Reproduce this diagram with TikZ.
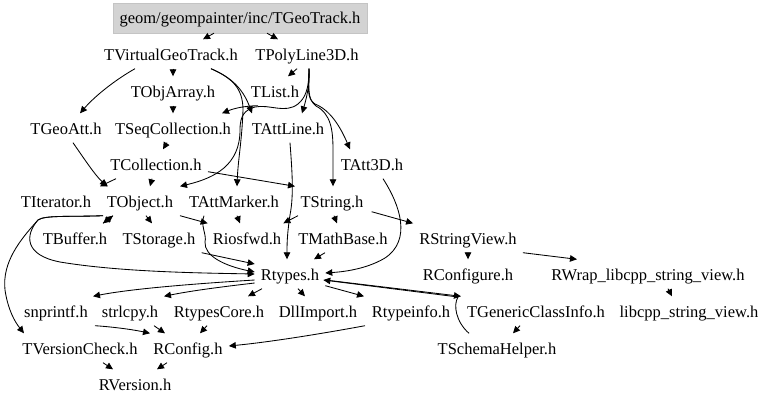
\documentclass[tikz,border=0pt]{standalone}
\usepackage{fontspec}
\setmainfont{Liberation Serif}
\usetikzlibrary{arrows.meta}
\definecolor{rootgray}{RGB}{211,211,211}
\definecolor{rootedge}{RGB}{196,196,196}
\begin{document}
\begin{tikzpicture}[x=1pt,y=-1pt,
  nd/.style={inner xsep=6pt, inner ysep=0pt, minimum height=29pt, text height=13pt, text depth=1pt, font=\fontsize{16.5}{18}\selectfont},
  rootnd/.style={nd, fill=rootgray, draw=rootedge, minimum width=254pt, minimum height=30pt},
  e/.style={draw=black, line width=0.85pt, -{Triangle[length=7pt,width=6.5pt]}}]
\fill[white] (0,0) rectangle (768,404);
\useasboundingbox (0,0) rectangle (768,404);
% nodes
\node[rootnd] (root) at (240,18) {geom/geompainter/inc/TGeoTrack.h};
\node[nd] (tvg) at (171,54) {TVirtualGeoTrack.h};
\node[nd] (tpl) at (307,54) {TPolyLine3D.h};
\node[nd] (toa) at (173,91) {TObjArray.h};
\node[nd] (tlist) at (275,91) {TList.h};
\node[nd] (tgeoatt) at (66,128) {TGeoAtt.h};
\node[nd] (tseq) at (173,128) {TSeqCollection.h};
\node[nd] (tattline) at (288,128) {TAttLine.h};
\node[nd] (tcoll) at (156,164) {TCollection.h};
\node[nd] (tatt3d) at (372,164) {TAtt3D.h};
\node[nd] (titer) at (56,201) {TIterator.h};
\node[nd] (tobj) at (140,201) {TObject.h};
\node[nd] (tattmarker) at (234,201) {TAttMarker.h};
\node[nd] (tstring) at (332,201) {TString.h};
\node[nd] (tbuffer) at (75,238) {TBuffer.h};
\node[nd] (tstorage) at (159,238) {TStorage.h};
\node[nd] (riosfwd) at (247,238) {Riosfwd.h};
\node[nd] (tmath) at (343,238) {TMathBase.h};
\node[nd] (rsv) at (468,238) {RStringView.h};
\node[nd] (rtypes) at (290,274) {Rtypes.h};
\node[nd] (rconfigure) at (468,274) {RConfigure.h};
\node[nd] (rwrap) at (648,274) {RWrap\_libcpp\_string\_view.h};
\node[nd] (snprintf) at (56,311) {snprintf.h};
\node[nd] (strlcpy) at (130,311) {strlcpy.h};
\node[nd] (rtcore) at (219,311) {RtypesCore.h};
\node[nd] (dll) at (318,311) {DllImport.h};
\node[nd] (rtinfo) at (411,311) {Rtypeinfo.h};
\node[nd] (tgci) at (536,311) {TGenericClassInfo.h};
\node[nd] (libcpp) at (689,311) {libcpp\_string\_view.h};
\node[nd] (tvc) at (80,348) {TVersionCheck.h};
\node[nd] (rconfig) at (188,348) {RConfig.h};
\node[nd] (tschema) at (497,348) {TSchemaHelper.h};
\node[nd] (rversion) at (135,384) {RVersion.h};
% edges
\draw[e] ([xshift=-26pt]root.south) -- ([xshift=32pt]tvg.north);
\draw[e] ([xshift=27pt]root.south) -- ([xshift=-29pt]tpl.north);
\draw[e] ([xshift=-36pt]tvg.south) .. controls (115,80) and (95,96) .. ([xshift=14pt]tgeoatt.north);
\draw[e] ([xshift=2pt]tvg.south) -- (toa.north);
\draw[e] ([xshift=40pt]tvg.south) .. controls (228,76) and (242,86) .. ([xshift=-36pt]tattline.north);
\draw[e] ([xshift=40pt]tvg.south) .. controls (232,78) and (243,88) .. (243,110) .. controls (242,140) and (238,160) .. ([xshift=3pt]tattmarker.north);
\draw[e] ([xshift=-10pt]tpl.south) -- ([xshift=13pt]tlist.north);
\draw[e] ([xshift=2pt]tpl.south) .. controls (310,85) and (306,100) .. ([xshift=14pt]tattline.north);
\draw[e] ([xshift=2pt]tpl.south) .. controls (309,88) and (306,98) .. (315,104) .. controls (330,110) and (340,126) .. ([xshift=-22pt]tatt3d.north);
\draw[e] ([xshift=2pt]tpl.south) .. controls (309,88) and (307,99) .. (316,106) .. controls (331,114) and (333,130) .. (333,150) -- ([xshift=1pt]tstring.north);
\draw[e] ([xshift=2pt]tpl.south) .. controls (309,90) and (305,98) .. (298,104) .. controls (285,114) and (270,104) .. (255,107) .. controls (245,110) and (240,115) .. (240,130) .. controls (240,165) and (215,178) .. ([xshift=40pt]tobj.north);
\draw[e] ([xshift=-17pt]tlist.south) .. controls (245,106) and (235,108) .. ([xshift=49pt]tseq.north);
\draw[e] (toa.south) -- (tseq.north);
\draw[e] ([xshift=-6pt]tseq.south) -- ([xshift=7pt]tcoll.north);
\draw[e] ([xshift=7pt]tgeoatt.south) .. controls (85,160) and (95,175) .. ([xshift=-33pt]tobj.north);
\draw[e] ([xshift=-40pt]tcoll.south) -- ([xshift=44pt]titer.north);
\draw[e] ([xshift=-4pt]tcoll.south) -- ([xshift=10pt]tobj.north);
\draw[e] ([xshift=52pt,yshift=7pt]tcoll.south) -- ([xshift=-37pt]tstring.north);
\draw[e] ([xshift=2pt]tattline.south) .. controls (292,170) and (294,195) .. (290,215) .. controls (287,235) and (287,245) .. ([xshift=-3pt]rtypes.north);
\draw[e] ([xshift=11pt]tatt3d.south) .. controls (400,205) and (412,240) .. (385,258) .. controls (365,270) and (340,272) .. ([yshift=1pt]rtypes.east);
\draw[e] ([xshift=-27pt]tobj.south) -- ([xshift=28pt]tbuffer.north);
\draw[e] ([xshift=28pt]tbuffer.north) -- ([xshift=-27pt]tobj.south);
\draw[e] ([xshift=6pt]tobj.south) -- ([xshift=-7pt]tstorage.north);
\draw[e] ([xshift=40pt]tobj.south) -- ([xshift=1pt]riosfwd.north west);
\draw[e] ([xshift=-37pt]tobj.south) .. controls (70,217) and (45,215) .. (38,220) .. controls (25,235) and (24,255) .. (60,262) .. controls (120,272) and (200,273) .. (rtypes.west);
\draw[e] ([xshift=-37pt]tobj.south) .. controls (70,217) and (45,215) .. (38,220) .. controls (20,240) and (2,262) .. (5,290) .. controls (8,310) and (15,322) .. ([xshift=-56pt]tvc.north);
\draw[e] ([xshift=3pt]tattmarker.south) -- ([xshift=-7pt]riosfwd.north);
\draw[e] ([xshift=-30pt]tattmarker.south) .. controls (200,225) and (207,235) .. (205,242) .. controls (204,256) and (225,266) .. ([yshift=2pt]rtypes.west);
\draw[e] (tstorage.south east) -- ([yshift=10pt]rtypes.west);
\draw[e] ([xshift=-34pt]tstring.south) -- ([xshift=-4pt]riosfwd.north east);
\draw[e] ([xshift=2pt]tstring.south) -- ([xshift=-6pt]tmath.north);
\draw[e] ([xshift=2pt,yshift=4pt]tstring.south east) -- (rsv.north west);
\draw[e] ([xshift=-18pt]tmath.south) -- ([xshift=24pt]rtypes.north);
\draw[e] (rsv.south) -- (rconfigure.north);
\draw[e] (rsv.south east) -- ([xshift=-71pt]rwrap.north);
\draw[e] ([xshift=20pt]rwrap.south) -- ([xshift=-17pt]libcpp.north);
\draw[e] ([yshift=-6pt]rtypes.west) .. controls (190,284) and (130,289) .. ([xshift=37pt]snprintf.north);
\draw[e] ([yshift=-9pt]rtypes.west) .. controls (220,287) and (190,291) .. ([xshift=34pt]strlcpy.north);
\draw[e] ([xshift=-28pt]rtypes.south) -- ([xshift=29pt]rtcore.north);
\draw[e] ([xshift=8pt]rtypes.south) -- ([xshift=-13pt]dll.north);
\draw[e] ([yshift=3pt]rtypes.south east) -- ([xshift=-47pt]rtinfo.north);
\draw[e] ([yshift=-6pt]rtypes.east) -- ([xshift=-75pt]tgci.north);
\draw[e] ([xshift=-28pt]tschema.north) .. controls (456,322) and (453,305) .. (458,297) -- ([xshift=-2pt,yshift=-6pt]rtypes.east);
\draw[e] ([xshift=-16pt]tgci.south) -- ([xshift=16pt]tschema.north);
\draw[e] ([xshift=39pt]snprintf.south) .. controls (115,327) and (135,330) .. ([xshift=-38pt]rconfig.north);
\draw[e] ([xshift=24pt]strlcpy.south) -- ([xshift=-23pt]rconfig.north);
\draw[e] ([xshift=-12pt]rtcore.south) -- ([xshift=12pt]rconfig.north);
\draw[e] ([xshift=-46pt]rtinfo.south) .. controls (320,334) and (270,342) .. ([yshift=2pt]rconfig.east);
\draw[e] ([xshift=23pt]tvc.south) -- ([xshift=-22pt]rversion.north);
\draw[e] ([xshift=-21pt]rconfig.south) -- ([xshift=22pt]rversion.north);
\end{tikzpicture}
\end{document}
